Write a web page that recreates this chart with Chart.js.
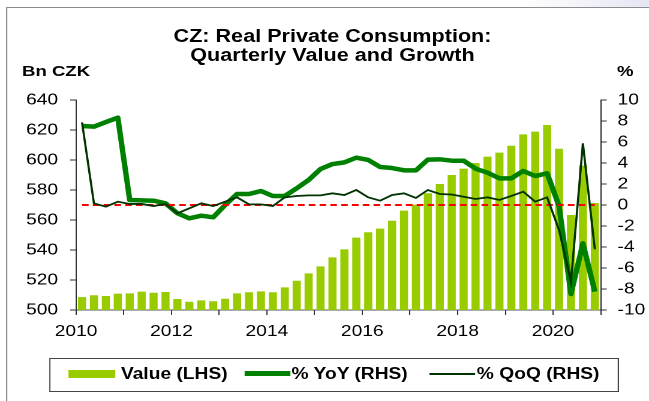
<!DOCTYPE html>
<html>
<head>
<meta charset="utf-8">
<script src="https://cdn.jsdelivr.net/npm/chart.js@4/dist/chart.umd.min.js"></script>
<style>
  html, body { margin:0; padding:0; background:#fff; }
  body { width:649px; height:401px; overflow:hidden; position:relative; font-family:'Liberation Sans', Arial, sans-serif; }
  #stage { position:absolute; left:0; top:0; width:541px; height:401px; transform:scaleX(1.19963); transform-origin:0 0; }
  .abs { position:absolute; white-space:nowrap; }
  #topstrip { left:0; top:0; width:541px; height:7px; background:linear-gradient(to right, #ffffff 0%, #ffffff 80%, #e6e6f4 100%); }
  #topline { left:5px; top:6.5px; width:536px; height:1.5px; background:#8c8c8c; }
  #leftline { left:4.5px; top:6.5px; width:1.5px; height:395px; background:#8c8c8c; }
  #title { left:0; top:26.7px; width:554.4px; text-align:center; font-weight:bold; font-size:18px; line-height:19.5px; color:#000; }
  .unit { font-weight:bold; font-size:15.5px; line-height:15.5px; color:#000; }
  #chartbox { position:absolute; left:0; top:0; width:541px; height:401px; }
  #legend { left:41.1px; top:358px; width:474.9px; height:34px; border:1px solid #444; box-sizing:border-box; }
  .ltxt { font-weight:bold; font-size:16px; line-height:16px; color:#000; }
</style>
</head>
<body>
<div id="stage">
  <div class="abs" id="topstrip"></div>
  <div class="abs" id="topline"></div>
  <div class="abs" id="leftline"></div>
  <div id="chartbox"><canvas id="c"></canvas></div>
  <div class="abs" id="title">CZ: Real Private Consumption:<br>Quarterly Value and Growth</div>
  <div class="abs unit" style="left:18.3px; top:62.9px;">Bn CZK</div>
  <div class="abs unit" style="left:514.3px; top:62.9px;">%</div>
  <div class="abs" id="legend"></div>
  <div class="abs" style="left:56.7px; top:370px; width:39.2px; height:8px; background:#99cc00;"></div>
  <div class="abs ltxt" style="left:100.8px; top:365.5px;">Value (LHS)</div>
  <div class="abs" style="left:204px; top:371.3px; width:38px; height:4.5px; background:#008000;"></div>
  <div class="abs ltxt" style="left:243px; top:365.5px;">% YoY (RHS)</div>
  <div class="abs" style="left:358px; top:372.5px; width:38px; height:2px; background:#003300;"></div>
  <div class="abs ltxt" style="left:397.5px; top:365.5px;">% QoQ (RHS)</div>
</div>
<script>
// Quarterly categories 2010Q1 .. 2020Q4
const quarters = [
  '2010Q1','2010Q2','2010Q3','2010Q4','2011Q1','2011Q2','2011Q3','2011Q4',
  '2012Q1','2012Q2','2012Q3','2012Q4','2013Q1','2013Q2','2013Q3','2013Q4',
  '2014Q1','2014Q2','2014Q3','2014Q4','2015Q1','2015Q2','2015Q3','2015Q4',
  '2016Q1','2016Q2','2016Q3','2016Q4','2017Q1','2017Q2','2017Q3','2017Q4',
  '2018Q1','2018Q2','2018Q3','2018Q4','2019Q1','2019Q2','2019Q3','2019Q4',
  '2020Q1','2020Q2','2020Q3','2020Q4'
];
// Value, Bn CZK (LHS)
const valueLHS = [
  508.4, 509.6, 509.1, 510.7, 510.9, 512.0, 511.3, 511.8,
  507.1, 505.3, 506.2, 505.6, 507.3, 510.9, 511.6, 512.2,
  511.6, 514.9, 519.3, 524.2, 528.9, 534.9, 540.2, 548.0,
  551.6, 554.0, 559.3, 566.0, 570.0, 577.6, 583.8, 589.8,
  594.0, 597.8, 602.0, 604.7, 609.3, 616.9, 618.7, 623.1,
  607.3, 563.1, 596.0, 571.1
];
// % YoY (RHS)
const yoyRHS = [
  7.52, 7.46, 7.9, 8.32, 0.48, 0.44, 0.41, 0.16,
  -0.79, -1.27, -1.02, -1.17, 0.0, 1.05, 1.05, 1.33,
  0.86, 0.86, 1.59, 2.38, 3.43, 3.9, 4.06, 4.51,
  4.29, 3.62, 3.52, 3.3, 3.3, 4.32, 4.35, 4.22,
  4.22, 3.46, 3.08, 2.54, 2.54, 3.24, 2.76, 3.02,
  -0.1, -8.48, -3.65, -8.25
];
// % QoQ (RHS)
const qoqRHS = [
  7.87, 0.16, -0.16, 0.32, 0.1, 0.1, -0.1, 0.1,
  -0.79, -0.32, 0.16, -0.1, 0.32, 0.73, 0.06, 0.06,
  -0.1, 0.73, 0.86, 0.92, 0.92, 1.11, 0.95, 1.43,
  0.73, 0.41, 0.95, 1.11, 0.67, 1.43, 1.05, 1.0,
  0.79, 0.57, 0.73, 0.48, 0.86, 1.27, 0.32, 0.73,
  -2.38, -7.3, 5.87, -4.22
];
// Zero reference line (RHS)
const zeroRHS = quarters.map(() => 0);
// X-axis tick labels (every second year)
const yearLabels = ['2010','2012','2014','2016','2018','2020'];
// Axis ranges
const lhsRange = [500, 640, 20];
const rhsRange = [-10, 10, 2];

// quarter position on a continuous year axis (centre of each quarter)
function qx(q) {
  const y = parseInt(q.slice(0, 4), 10);
  const n = parseInt(q.slice(5), 10);
  return y + (n - 0.5) / 4;
}
const pts = arr => quarters.map((q, i) => ({ x: qx(q), y: arr[i] }));

const FONT = "'Liberation Sans', Arial, sans-serif";
const tickFont = { family: FONT, size: 16 };

new Chart(document.getElementById('c'), {
  type: 'bar',
  data: {
    datasets: [
      { label: 'Value (LHS)', type: 'bar', data: pts(valueLHS), yAxisID: 'y',
        backgroundColor: '#99cc00', borderWidth: 0, barThickness: 6.1, order: 4 },
      { label: '% YoY (RHS)', type: 'line', data: pts(yoyRHS), yAxisID: 'y2',
        borderColor: '#008000', borderWidth: 4.5, pointRadius: 0, tension: 0,
        fill: false, order: 3, borderJoinStyle: 'round' },
      { label: 'zero', type: 'line', data: pts(zeroRHS), yAxisID: 'y2',
        borderColor: '#ff0000', borderWidth: 2, borderDash: [5.5, 3.5], pointRadius: 0,
        fill: false, order: 2 },
      { label: '% QoQ (RHS)', type: 'line', data: pts(qoqRHS), yAxisID: 'y2',
        borderColor: '#003300', borderWidth: 1.8, pointRadius: 0, tension: 0,
        fill: false, order: 1 }
    ]
  },
  options: {
    responsive: true,
    maintainAspectRatio: false,
    devicePixelRatio: 2,
    animation: false,
    layout: { padding: { top: 100, left: 0, right: 0, bottom: 0 } },
    plugins: { legend: { display: false }, title: { display: false }, tooltip: { enabled: false } },
    scales: {
      x: {
        type: 'linear', position: 'bottom', min: 2010, max: 2021, offset: false,
        ticks: {
          stepSize: 1, autoSkip: false, maxRotation: 0, minRotation: 0,
          font: tickFont, color: '#000', padding: 7,
          callback: v => yearLabels.includes(String(v)) ? String(v) : ''
        },
        grid: { display: true, drawOnChartArea: false, drawTicks: true, tickLength: 5, color: '#333', offset: false },
        border: { display: true, color: '#555', width: 1 },
        afterFit: s => { s.height = 91; }
      },
      y: {
        position: 'left', min: lhsRange[0], max: lhsRange[1],
        ticks: { stepSize: lhsRange[2], autoSkip: false, font: tickFont, color: '#000', padding: 10 },
        grid: { display: true, drawOnChartArea: false, drawTicks: true, tickLength: 5, color: '#333' },
        border: { display: true, color: '#333', width: 1 },
        afterFit: s => { s.width = 63.4; }
      },
      y2: {
        position: 'right', min: rhsRange[0], max: rhsRange[1],
        ticks: { stepSize: rhsRange[2], autoSkip: false, font: tickFont, color: '#000', padding: 9 },
        grid: { display: true, drawOnChartArea: false, drawTicks: true, tickLength: 5, color: '#333' },
        border: { display: true, color: '#333', width: 1 },
        afterFit: s => { s.width = 40.2; }
      }
    }
  }
});
</script>
</body>
</html>
